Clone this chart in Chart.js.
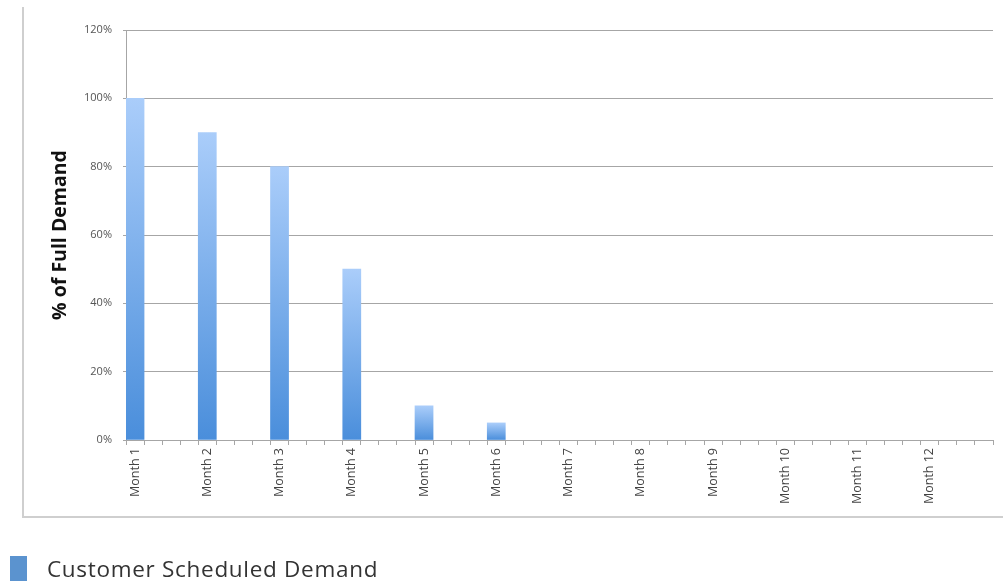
<!DOCTYPE html>
<html>
<head>
<meta charset="utf-8">
<script src="https://cdn.jsdelivr.net/npm/chart.js@4/dist/chart.umd.min.js"></script>
<style>
  html, body { margin: 0; padding: 0; background: #fff; overflow: hidden; }
  #wrap { position: relative; width: 1003px; height: 583px; }
  #legend {
    position: absolute; left: 10px; top: 556px;
    font-family: "Open Sans", Lato, sans-serif; font-size: 22.5px; letter-spacing: 0.7px; color: #333;
    display: flex; align-items: center; line-height: 25px;
  }
  #legend .swatch { width: 17px; height: 25px; background: #5b93cf; margin-right: 20px; }
</style>
</head>
<body>
<div id="wrap">
  <canvas id="chart" width="1003" height="583"></canvas>
  <div id="legend"><span class="swatch"></span><span>Customer Scheduled Demand</span></div>
</div>
<script>
// Months shown on the axis, each month split into 4 slots (weeks)
const months = ["Month 1", "Month 2", "Month 3", "Month 4", "Month 5", "Month 6",
  "Month 7", "Month 8", "Month 9", "Month 10", "Month 11", "Month 12"];
// % of full demand scheduled, one value per month
const demand = [100, 90, 80, 50, 10, 5, 0, 0, 0, 0, 0, 0];
const slotsPerMonth = 4;
const yTicks = [0, 20, 40, 60, 80, 100, 120];

// Build the slot axis: month value sits in the first slot of each month
const labels = [];
const values = [];
months.forEach((m, i) => {
  for (let s = 0; s < slotsPerMonth; s++) {
    labels.push(s === 0 ? m : "");
    values.push(s === 0 && demand[i] > 0 ? demand[i] : null);
  }
});

// Light grey frame round the chart (left and bottom only)
const framePlugin = {
  id: "framePlugin",
  beforeDraw(chart) {
    const ctx = chart.ctx;
    ctx.save();
    ctx.strokeStyle = "#cfcfcf";
    ctx.lineWidth = 2;
    ctx.beginPath();
    ctx.moveTo(23, 7);
    ctx.lineTo(23, 517);
    ctx.lineTo(1003, 517);
    ctx.stroke();
    ctx.restore();
  },
};

const gridGrey = "#a6a6a6";
const tickFont = "'Open Sans', Lato, sans-serif";

new Chart(document.getElementById("chart"), {
  type: "bar",
  data: {
    labels: labels,
    datasets: [
      {
        label: "Customer Scheduled Demand",
        data: values,
        backgroundColor(c) {
          const chart = c.chart;
          if (!chart.chartArea || c.raw == null) return "#5b93cf";
          const y = chart.scales.y;
          const top = y.getPixelForValue(c.raw);
          const bottom = y.getPixelForValue(0);
          const g = chart.ctx.createLinearGradient(0, top, 0, bottom);
          g.addColorStop(0, "#aacdfa");
          g.addColorStop(1, "#4a8edb");
          return g;
        },
        borderWidth: 0,
        barPercentage: 1,
        categoryPercentage: 1,
      },
    ],
  },
  options: {
    responsive: false,
    animation: false,
    layout: { padding: { top: 30, right: 10, bottom: 0, left: 0 } },
    plugins: {
      legend: { display: false },
      tooltip: { enabled: false },
    },
    scales: {
      x: {
        afterFit(scale) { scale.height = 143; },
        grid: {
          display: true,
          drawOnChartArea: false,
          drawTicks: true,
          tickLength: 5,
          offset: true,
          color: gridGrey,
        },
        border: { color: gridGrey, width: 1 },
        ticks: {
          autoSkip: false,
          minRotation: 90,
          maxRotation: 90,
          padding: 3,
          color: "#444",
          font: { family: tickFont, size: 12.5 },
        },
      },
      y: {
        min: 0,
        max: 120,
        afterFit(scale) { scale.width = 126; },
        afterBuildTicks(scale) { scale.ticks = yTicks.map((v) => ({ value: v })); },
        grid: { color: gridGrey, tickLength: 3 },
        border: { color: gridGrey, width: 1 },
        ticks: {
          padding: 11,
          color: "#555",
          font: { family: tickFont, size: 11 },
          callback: (v) => v + "%",
        },
        title: {
          display: true,
          text: "% of Full Demand",
          color: "#111",
          padding: { top: 49, bottom: 0 },
          font: { family: "'Open Sans', Lato, sans-serif", size: 19.5, weight: "bold" },
        },
      },
    },
  },
  plugins: [framePlugin],
});
</script>
</body>
</html>
